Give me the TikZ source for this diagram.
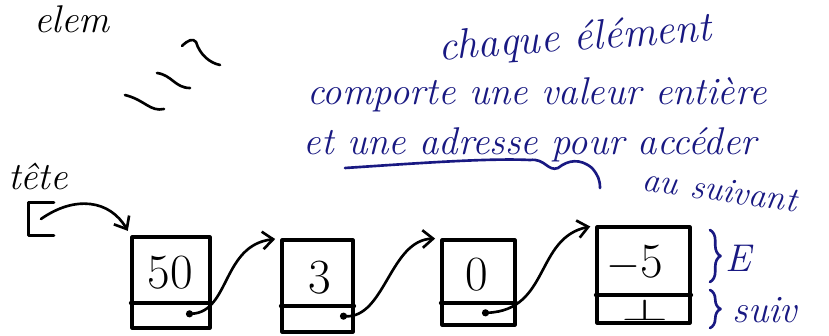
\documentclass[tikz,border=0pt]{standalone}
\usetikzlibrary{arrows.meta,decorations.pathreplacing}
\definecolor{ink}{RGB}{25,25,130}
\tikzset{
  hand/.style={font=\fontsize{22}{26}\selectfont\itshape},
  note/.style={hand, text=ink},
  val/.style={font=\fontsize{28}{32}\selectfont},
  cell/.style={draw, line width=1.8pt, inner sep=0pt},
  link/.style={line width=1.5pt, -{Straight Barb[length=6pt,width=10pt]}, shorten >=3pt},
  nextlink/.style={link, {Circle[length=4pt]}-{Straight Barb[length=6pt,width=10pt]}},
  brc/.style={ink, line width=1.5pt, decorate, decoration={brace, amplitude=6pt}},
}
\begin{document}
\begin{tikzpicture}[x=0.02cm, y=-0.02cm, line cap=round, line join=round]
  \useasboundingbox (0,0) rectangle (829,335);
  \node[hand] (elem) at (72,19) {elem};
  \draw[line width=1.5pt] (125,95) .. controls (145,100) and (150,112) .. (164,109);
  \draw[line width=1.5pt] (157,73) .. controls (172,75) and (175,88) .. (190,88);
  \draw[line width=1.5pt] (182,46) .. controls (188,40) and (193,38) .. (196,42) .. controls (200,55) and (210,63) .. (220,65);
  \node[note, rotate=4, font=\fontsize{24}{28}\selectfont\itshape] (l1) at (575,40) {chaque élément};
  \node[note] (l2) at (537,95) {comporte une valeur entière};
  \node[note] (l3) at (530,145) {et une adresse pour accéder};
  \node[note, rotate=-8, font=\fontsize{20}{24}\selectfont\itshape] (l4) at (720,190) {au suivant};
  \draw[ink, line width=1.5pt] (345,168) .. controls (420,163) and (490,158) .. (530,160) .. controls (545,158) and (548,172) .. (558,168) .. controls (568,160) and (580,158) .. (592,168) .. controls (598,175) and (600,180) .. (600,188);
  \node[hand] (tete) at (38,176) {tête};
  \node[minimum width=0.5cm, minimum height=0.66cm] (head) at (41,219) {};
  \draw[line width=1.8pt] (head.north east) -- (head.north west) -- (head.south west) -- (head.south east);
  \node[cell, minimum width=1.56cm, minimum height=1.82cm] (b1) at (171,282.5) {};
  \node[cell, minimum width=1.42cm, minimum height=1.84cm] (b2) at (317.5,286) {};
  \node[cell, minimum width=1.46cm, minimum height=1.70cm] (b3) at (478.5,282.5) {};
  \node[cell, minimum width=1.86cm, minimum height=1.92cm] (b4) at (643.5,275) {};
  \coordinate (s1) at (0,303);
  \coordinate (s2) at (0,306);
  \coordinate (s3) at (0,303);
  \coordinate (s4) at (0,295);
  \draw[line width=1.8pt] (b1.west |- s1) -- (b1.east |- s1);
  \draw[line width=1.8pt] (b2.west |- s2) -- (b2.east |- s2);
  \draw[line width=1.8pt] (b3.west |- s3) -- (b3.east |- s3);
  \draw[line width=1.8pt] (b4.west |- s4) -- (b4.east |- s4);
  \node[val] (v1) at (170,273) {50};
  \node[val] (v2) at (320,278) {3};
  \node[val] (v3) at (477,275) {0};
  \node[val] (v4) at (635,263) {$-$5};
  \node[font=\fontsize{16}{18}\selectfont, xscale=2, inner sep=0pt] (nil) at (645,310) {$\perp$};
  \coordinate (p1) at (186,314);
  \coordinate (p2) at (340,316);
  \coordinate (p3) at (482,313);
  \draw[link] (head.center) .. controls (75,195) and (110,200) .. (b1.north west);
  \draw[nextlink] (p1) .. controls (230,312) and (222,245) .. (b2.north west);
  \draw[nextlink] (p2) .. controls (385,318) and (390,240) .. (b3.north west);
  \draw[nextlink] (p3) .. controls (550,310) and (535,238) .. (b4.north west);
  \draw[brc] (710,230) -- (710,282);
  \node[note] (E) at (738,258) {E};
  \draw[brc] (710,290) -- (710,328);
  \node[note] (suiv) at (765,310) {suiv};
\end{tikzpicture}
\end{document}
